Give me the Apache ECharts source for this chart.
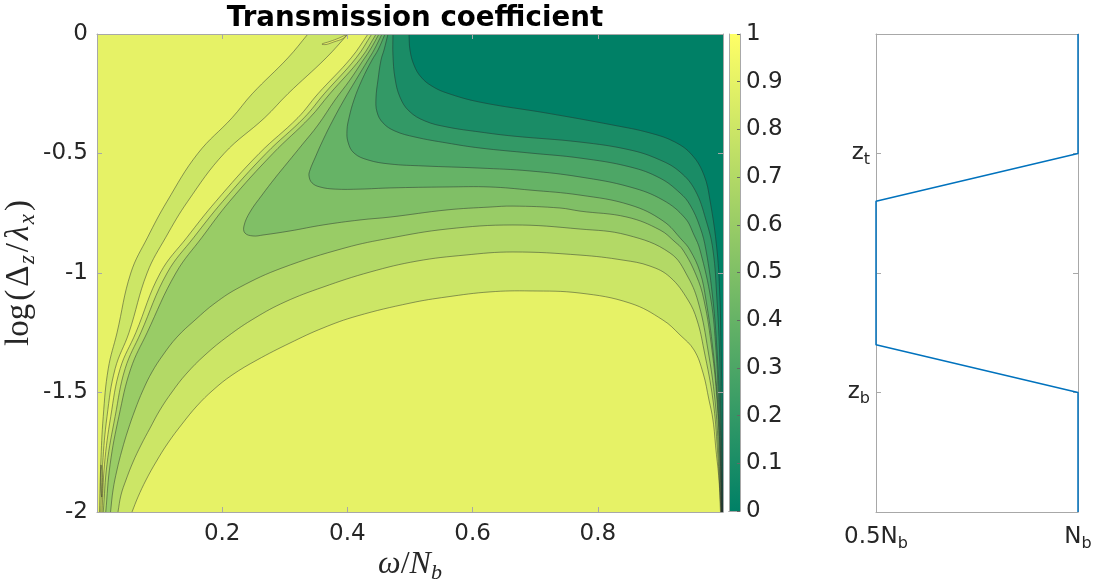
<!DOCTYPE html>
<html><head><meta charset="utf-8">
<script src="https://cdn.jsdelivr.net/npm/echarts@6/dist/echarts.min.js"></script>
<style>html,body{margin:0;padding:0;background:#fff;}#c{width:1095px;height:581px;}</style>
</head><body><div id="c"></div>
<script>
// ---------- data ----------
const xRange = [0, 1];          // omega / N_b
const yRange = [-2, 0];         // log(Delta_z / lambda_x)
const xTicks = [0.2, 0.4, 0.6, 0.8];
const yTicks = [0, -0.5, -1, -1.5, -2];
const cbTicks = [0, 0.1, 0.2, 0.3, 0.4, 0.5, 0.6, 0.7, 0.8, 0.9, 1];
const levels = [0.1, 0.2, 0.3, 0.4, 0.5, 0.6, 0.7, 0.8, 0.9];
// colour of band [i/10, (i+1)/10]
const bandColors = ['#008066','#1a8c66','#339966','#4da666','#66b366','#80bf66','#99cc66','#b3d966','#cce666','#e6f266'];

// left fan of contours (x at given y)
const fanY  = [0,-0.1,-0.25,-0.35,-0.5,-0.7,-0.85,-1.0,-1.25,-1.4,-1.6,-1.8,-2];
const fanA9 = [0.337,0.305,0.248,0.216,0.161,0.112,0.081,0.054,0.032,0.018,0.010,0.006,0.004];
const fanB9 = [0.401,0.366,0.305,0.268,0.203,0.145,0.110,0.080,0.051,0.029,0.016,0.009,0.006];
const fanC9 = [0.433,0.406,0.353,0.321,0.259,0.190,0.144,0.101,0.062,0.037,0.022,0.012,0.008];
const fanL8 = [0.439,0.414,0.363,0.331,0.270,0.201,0.155,0.112,0.070,0.045,0.029,0.016,0.010];
const fanL7 = [0.446,0.422,0.372,0.340,0.281,0.212,0.168,0.126,0.080,0.054,0.035,0.021,0.014];

// arches (level 0.9, 0.8, 0.7) from bottom-left to bottom-right
const arch9 = [[0.0559,-2],[0.0655,-1.937],[0.0783,-1.866],[0.0942,-1.791],[0.1134,-1.711],[0.1358,-1.632],[0.1597,-1.556],[0.1853,-1.490],[0.2157,-1.427],[0.2556,-1.364],[0.3083,-1.293],[0.3610,-1.230],[0.4153,-1.180],[0.5000,-1.126],[0.5591,-1.100],[0.6278,-1.079],[0.6917,-1.075],[0.7716,-1.084],[0.8514,-1.126],[0.9042,-1.197],[0.9313,-1.259],[0.9537,-1.322],[0.9681,-1.418],[0.9776,-1.531],[0.9840,-1.615],[0.9888,-1.741],[0.9936,-1.866],[0.9960,-2]];
const arch8 = [[0.0335,-2],[0.0383,-1.929],[0.0463,-1.866],[0.0575,-1.791],[0.0703,-1.720],[0.0847,-1.649],[0.1006,-1.573],[0.1198,-1.498],[0.1422,-1.423],[0.1725,-1.343],[0.2093,-1.264],[0.2524,-1.188],[0.3003,-1.121],[0.3610,-1.059],[0.4361,-0.996],[0.5112,-0.950],[0.5879,-0.925],[0.6645,-0.912],[0.7716,-0.925],[0.8403,-0.946],[0.8834,-0.971],[0.9153,-1.017],[0.9441,-1.113],[0.9585,-1.197],[0.9696,-1.322],[0.9840,-1.531],[0.9912,-1.741],[0.9968,-2]];
const arch7 = [[0.0216,-2],[0.0256,-1.908],[0.0319,-1.824],[0.0399,-1.741],[0.0495,-1.657],[0.0607,-1.573],[0.0735,-1.490],[0.0879,-1.414],[0.1054,-1.343],[0.1278,-1.268],[0.1565,-1.197],[0.1885,-1.126],[0.2284,-1.059],[0.2955,-0.979],[0.3962,-0.895],[0.4681,-0.854],[0.5591,-0.816],[0.6645,-0.799],[0.7716,-0.816],[0.8466,-0.841],[0.9153,-0.916],[0.9441,-1.017],[0.9617,-1.134],[0.9760,-1.322],[0.9872,-1.531],[0.9928,-1.741],[0.9973,-2]];

// contours 0.6 ... 0.1 from top edge to bottom-right
const c6 = [[0.4505,0],[0.4361,-0.067],[0.4233,-0.117],[0.4042,-0.192],[0.3802,-0.276],[0.3530,-0.381],[0.3275,-0.464],[0.3051,-0.536],[0.2843,-0.603],[0.2636,-0.674],[0.2444,-0.745],[0.2348,-0.803],[0.2364,-0.833],[0.2492,-0.845],[0.2652,-0.841],[0.3083,-0.824],[0.3610,-0.799],[0.4201,-0.778],[0.4681,-0.766],[0.5591,-0.736],[0.6278,-0.724],[0.6645,-0.720],[0.7396,-0.728],[0.7716,-0.741],[0.8466,-0.766],[0.8994,-0.820],[0.9233,-0.870],[0.9361,-0.904],[0.9569,-1.008],[0.9696,-1.113],[0.9824,-1.322],[0.9904,-1.531],[0.9944,-1.741],[0.9978,-2]];
const c5 = [[0.4553,0],[0.4425,-0.067],[0.4329,-0.109],[0.4137,-0.192],[0.3946,-0.276],[0.3770,-0.360],[0.3610,-0.444],[0.3482,-0.519],[0.3403,-0.569],[0.3387,-0.594],[0.3435,-0.623],[0.3562,-0.640],[0.3802,-0.649],[0.4201,-0.649],[0.4681,-0.644],[0.5591,-0.640],[0.6278,-0.640],[0.6917,-0.653],[0.7716,-0.674],[0.8514,-0.715],[0.9042,-0.782],[0.9345,-0.862],[0.9473,-0.904],[0.9633,-0.996],[0.9728,-1.113],[0.9840,-1.322],[0.9912,-1.531],[0.9952,-1.741],[0.9981,-2]];
const c4 = [[0.4601,0],[0.4489,-0.067],[0.4393,-0.109],[0.4233,-0.192],[0.4105,-0.276],[0.4026,-0.351],[0.3994,-0.402],[0.4010,-0.452],[0.4105,-0.498],[0.4329,-0.527],[0.4681,-0.544],[0.5208,-0.552],[0.6118,-0.561],[0.6917,-0.573],[0.7716,-0.598],[0.8514,-0.640],[0.9042,-0.695],[0.9393,-0.770],[0.9537,-0.841],[0.9633,-0.904],[0.9808,-1.113],[0.9888,-1.322],[0.9928,-1.531],[0.9960,-1.741],[0.9984,-2]];
const c3 = [[0.4649,0],[0.4585,-0.067],[0.4537,-0.109],[0.4489,-0.192],[0.4457,-0.268],[0.4473,-0.326],[0.4569,-0.372],[0.4760,-0.406],[0.5080,-0.431],[0.5591,-0.456],[0.6118,-0.477],[0.6917,-0.498],[0.7716,-0.519],[0.8514,-0.556],[0.8994,-0.603],[0.9313,-0.665],[0.9473,-0.715],[0.9633,-0.808],[0.9728,-0.904],[0.9840,-1.113],[0.9904,-1.322],[0.9944,-1.531],[0.9968,-1.741],[0.9987,-2]];
const c2 = [[0.4728,0],[0.4728,-0.088],[0.4760,-0.184],[0.4840,-0.264],[0.4984,-0.322],[0.5240,-0.364],[0.5591,-0.389],[0.6118,-0.410],[0.6645,-0.427],[0.7716,-0.452],[0.8514,-0.485],[0.8994,-0.527],[0.9313,-0.577],[0.9553,-0.653],[0.9728,-0.778],[0.9840,-0.904],[0.9904,-1.113],[0.9944,-1.322],[0.9960,-1.531],[0.9979,-1.741],[0.9990,-2]];
const c1 = [[0.4984,0],[0.5000,-0.067],[0.5064,-0.130],[0.5176,-0.180],[0.5351,-0.218],[0.5591,-0.247],[0.6118,-0.285],[0.7188,-0.331],[0.8243,-0.381],[0.8834,-0.414],[0.9233,-0.452],[0.9505,-0.506],[0.9696,-0.590],[0.9792,-0.695],[0.9904,-0.904],[0.9952,-1.113],[0.9968,-1.322],[0.9984,-1.531],[0.9989,-1.741],[0.9994,-2]];

// small closed contours
const islandTop = [[0.3594,-0.042],[0.3722,-0.031],[0.3866,-0.017],[0.3978,-0.004],[0.3930,-0.019],[0.3786,-0.033],[0.3658,-0.044]];
const islandLow = [[0.0064,-1.803],[0.0085,-1.845],[0.0088,-1.887],[0.0077,-1.937],[0.0061,-1.908],[0.0058,-1.858]];

// right panel: buoyancy profile
const profX = [1, 1, 0.5, 0.5, 1, 1];
const profY = [4, 3, 2.6, 1.4, 1, 0];
const profXTicks = [0.5, 1];
const profXNames = ['0.5N', 'N'];
const profYTicks = [1, 3];
const profYSubs = ['b', 't'];

// ---------- geometry helpers (no data generated, only drawing paths) ----------
const SMOOTH = 0.4;
const zip = (ys, xs) => xs.map((x, i) => [x, ys[i]]);
const onEdge = p => Math.abs(p[1] - yRange[0]) < 1e-9 || Math.abs(p[1] - yRange[1]) < 1e-9;
// helper point just outside the plot, continuing the curve's direction (it is clipped away)
function outside(p, q) {
  const dy = p[1] - q[1];
  const k = Math.abs(dy) > 1e-6 ? 0.15 / Math.abs(dy) : 1;
  return [p[0] + (p[0] - q[0]) * k, p[1] + dy * k];
}
function ext(pts) {
  const out = pts.slice();
  if (onEdge(pts[0])) out.unshift(outside(pts[0], pts[1]));
  const n = pts.length;
  if (onEdge(pts[n - 1])) out.push(outside(pts[n - 1], pts[n - 2]));
  return out;
}
const farCorners = [[xRange[1] + 0.25, yRange[0] - 0.6], [xRange[1] + 0.25, yRange[1] + 0.6]];

const A9 = zip(fanY, fanA9), B9 = zip(fanY, fanB9), C9 = zip(fanY, fanC9), L8 = zip(fanY, fanL8), L7 = zip(fanY, fanL7);
const shapes = [];
shapes.push({pts: [[xRange[0], yRange[1]], [xRange[0], yRange[0]], [xRange[1], yRange[0]], [xRange[1], yRange[1]]], fill: bandColors[9], smooth: 0});
shapes.push({pts: ext(A9).concat(ext(B9).reverse()), fill: bandColors[8], smooth: SMOOTH});
shapes.push({pts: ext(C9).concat(ext(arch9), farCorners), fill: bandColors[8], smooth: SMOOTH});
shapes.push({pts: ext(L8).concat(ext(arch8), farCorners), fill: bandColors[7], smooth: SMOOTH});
shapes.push({pts: ext(L7).concat(ext(arch7), farCorners), fill: bandColors[6], smooth: SMOOTH});
[c6, c5, c4, c3, c2, c1].forEach((c, i) => shapes.push({pts: ext(c).concat(farCorners), fill: bandColors[5 - i], smooth: SMOOTH}));
shapes.push({pts: islandTop, fill: bandColors[9], smooth: SMOOTH});
[A9, B9, C9, L8, L7, arch9, arch8, arch7, c6, c5, c4, c3, c2, c1].forEach(l => shapes.push({pts: ext(l), line: true, smooth: SMOOTH}));
shapes.push({pts: islandLow, line: true, closed: true, smooth: SMOOTH});
shapes.push({pts: islandTop, line: true, closed: true, smooth: SMOOTH});

const FONT = 'DejaVu Sans';
const TXT = '#262626';
const AX = '#a8a8a8';
const FS = 23;
const SERIF = 'Liberation Serif';

const chart = echarts.init(document.getElementById('c'), null, {renderer: 'canvas'});
const subRich = {
  n: {fontFamily: FONT, fontSize: FS, color: TXT, verticalAlign: 'middle'},
  s: {fontFamily: FONT, fontSize: 16, color: TXT, verticalAlign: 'middle', padding: [13, 0, 0, 0]}
};
const mathRich = {
  it: {fontFamily: SERIF, fontStyle: 'italic', fontSize: 32, color: TXT, verticalAlign: 'middle'},
  r: {fontFamily: SERIF, fontSize: 32, color: TXT, verticalAlign: 'middle'},
  sub: {fontFamily: SERIF, fontStyle: 'italic', fontSize: 22, color: TXT, verticalAlign: 'middle', padding: [16, 0, 0, 0]}
};
const yMathRich = {
  it: {fontFamily: SERIF, fontStyle: 'italic', fontSize: 33, color: TXT, verticalAlign: 'middle', padding: [0, 1.5, 0, 1.5]},
  r: {fontFamily: SERIF, fontSize: 33, color: TXT, verticalAlign: 'middle', padding: [0, 1.5, 0, 1.5]},
  sub: {fontFamily: SERIF, fontStyle: 'italic', fontSize: 23, color: TXT, verticalAlign: 'middle', padding: [17, 1.5, 0, 0]}
};
const axisBase = (extra) => Object.assign({
  axisLine: {show: true, onZero: false, lineStyle: {color: AX, width: 1}},
  axisTick: {show: true, inside: true, length: 5, lineStyle: {color: AX}},
  splitLine: {show: false},
  z: 10
}, extra);

chart.setOption({
  animation: false,
  backgroundColor: '#fff',
  title: {text: 'Transmission coefficient', left: 410, top: 0, textAlign: 'center',
    textStyle: {fontFamily: FONT, fontSize: 27.7, fontWeight: 'bold', color: '#000'}},
  grid: [
    {left: 97, top: 34, width: 626, height: 478, outerBoundsMode: 'none'},
    {left: 729, top: 34, width: 11, height: 477, outerBoundsMode: 'none'},
    {left: 876, top: 34, width: 202, height: 478, outerBoundsMode: 'none'}
  ],
  xAxis: [
    axisBase({gridIndex: 0, type: 'value', min: xRange[0], max: xRange[1], interval: 0.2, position: 'bottom',
      axisLabel: {fontFamily: FONT, fontSize: FS, color: TXT, margin: 11,
        formatter: v => xTicks.some(t => Math.abs(t - v) < 1e-9) ? String(v) : ''},
      name: '{it|ω}{r|/}{it|N}{sub|b}', nameLocation: 'middle', nameGap: 34, nameMoveOverlap: false,
      nameTextStyle: {rich: mathRich}}),
    axisBase({gridIndex: 0, type: 'value', min: xRange[0], max: xRange[1], interval: 0.2, position: 'top',
      axisLabel: {show: false}}),
    {gridIndex: 1, type: 'category', data: [''], position: 'bottom', z: 10,
      axisLine: {show: true, lineStyle: {color: AX}}, axisTick: {show: false}, axisLabel: {show: false}},
    {gridIndex: 1, type: 'category', data: [''], position: 'top', z: 10,
      axisLine: {show: true, lineStyle: {color: AX}}, axisTick: {show: false}, axisLabel: {show: false}},
    {gridIndex: 2, type: 'value', min: 0.5, max: 1, interval: 0.5, position: 'bottom',
      axisLine: {show: true, onZero: false, lineStyle: {color: AX}}, axisTick: {show: true, inside: true, lineStyle: {color: AX}},
      splitLine: {show: false},
      axisLabel: {showMinLabel: true, showMaxLabel: true, margin: 11, rich: subRich,
        formatter: v => { const i = profXTicks.findIndex(t => Math.abs(t - v) < 1e-9); return i < 0 ? '' : '{n|' + profXNames[i] + '}{s|b}'; }}},
    {gridIndex: 2, type: 'value', min: 0.5, max: 1, position: 'top',
      axisLine: {show: true, onZero: false, lineStyle: {color: AX}}, axisTick: {show: false}, axisLabel: {show: false}, splitLine: {show: false}}
  ],
  yAxis: [
    axisBase({gridIndex: 0, type: 'value', min: yRange[0], max: yRange[1], interval: 0.5, position: 'left',
      axisLabel: {fontFamily: FONT, fontSize: FS, color: TXT, margin: 9,
        formatter: v => yTicks.some(t => Math.abs(t - v) < 1e-9) ? String(v) : ''},
      name: '{r|log}{r|(}{r|Δ}{sub|z}{r|/}{it|λ}{sub|x}{r|)}', nameLocation: 'middle', nameGap: 58, nameRotate: 90, nameMoveOverlap: false,
      nameTextStyle: {rich: yMathRich}}),
    axisBase({gridIndex: 0, type: 'value', min: yRange[0], max: yRange[1], interval: 0.5, position: 'right',
      axisLabel: {show: false}}),
    {gridIndex: 1, type: 'value', min: 0, max: 1, interval: 0.1, position: 'right', z: 10,
      axisLine: {show: true, onZero: false, lineStyle: {color: AX}},
      axisTick: {show: true, inside: true, length: 3, lineStyle: {color: '#666'}},
      splitLine: {show: false},
      axisLabel: {fontFamily: FONT, fontSize: FS, color: TXT, margin: 6,
        formatter: v => cbTicks.some(t => Math.abs(t - v) < 1e-9) ? String(+v.toFixed(1)) : ''}},
    {gridIndex: 1, type: 'value', min: 0, max: 1, position: 'left', z: 10,
      axisLine: {show: true, onZero: false, lineStyle: {color: AX}}, axisTick: {show: false}, axisLabel: {show: false}, splitLine: {show: false}},
    {gridIndex: 2, type: 'value', min: 0, max: 4, interval: 1, position: 'left',
      axisLine: {show: true, onZero: false, lineStyle: {color: AX}},
      axisTick: {show: true, inside: true, length: 5, lineStyle: {color: AX}},
      splitLine: {show: false},
      axisLabel: {margin: 6, rich: subRich,
        formatter: v => { const i = profYTicks.indexOf(v); return i < 0 ? '' : '{n|z}{s|' + profYSubs[i] + '}'; }}},
    {gridIndex: 2, type: 'value', min: 0, max: 4, interval: 1, position: 'right',
      axisLine: {show: true, onZero: false, lineStyle: {color: AX}},
      axisTick: {show: true, inside: true, length: 5, lineStyle: {color: AX}},
      splitLine: {show: false}, axisLabel: {show: false}}
  ],
  series: [
    {type: 'custom', xAxisIndex: 0, yAxisIndex: 0, clip: true, silent: true,
      data: shapes.map(() => [xRange[0], yRange[0]]),
      renderItem: function (params, api) {
        const s = shapes[params.dataIndex];
        const pts = s.pts.map(p => api.coord(p));
        if (s.line) {
          return {type: s.closed ? 'polygon' : 'polyline', shape: {points: pts, smooth: s.smooth}, silent: true,
            style: {fill: null, stroke: 'rgba(40,40,40,0.75)', lineWidth: 0.6}};
        }
        return {type: 'polygon', shape: {points: pts, smooth: s.smooth}, silent: true,
          style: {fill: s.fill, stroke: s.fill, lineWidth: 0.5}};
      }},
    {type: 'bar', xAxisIndex: 2, yAxisIndex: 2, data: [cbTicks[cbTicks.length - 1]], barWidth: '100%', silent: true,
      itemStyle: {color: new echarts.graphic.LinearGradient(0, 0, 0, 1, [
        {offset: 0, color: '#ffff66'}, {offset: 1, color: '#008066'}])}},
    {type: 'line', xAxisIndex: 4, yAxisIndex: 4, data: profX.map((x, i) => [x, profY[i]]),
      symbol: 'none', clip: false, silent: true, z: 20,
      lineStyle: {color: '#0072bd', width: 1.5}}
  ]
});
</script></body></html>
